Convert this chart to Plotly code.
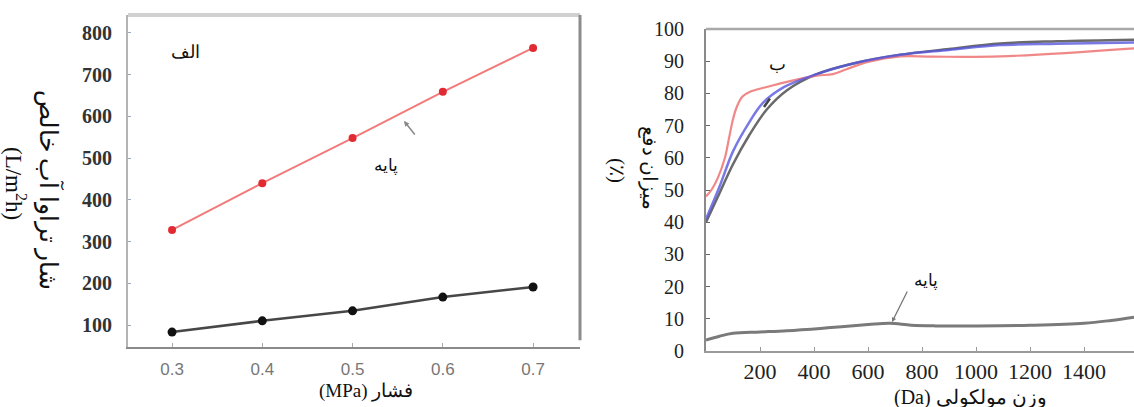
import plotly.graph_objects as go

W, H = 1134, 407


def px(x):
    return x / W


def py(y):
    return 1 - y / H


# ---------------- data: panel (a) ----------------
pressure = [0.3, 0.4, 0.5, 0.6, 0.7]
pressure_labels = ["0.3", "0.4", "0.5", "0.6", "0.7"]
flux_modified = [328, 440, 548, 659, 764]
flux_base = [83, 110, 134, 167, 191]
flux_ticks = [100, 200, 300, 400, 500, 600, 700, 800]

# ---------------- data: panel (b) ----------------
mw_red = [0, 20, 45, 70, 85, 100, 115, 135, 163, 225, 300, 410, 470, 520, 600, 720, 840, 1090, 1585]
rej_red = [48, 50, 54, 60, 66, 72, 76, 79, 80.5, 82, 83.6, 85.5, 86, 87.5, 89.8, 91.5, 91.4, 91.5, 94]

mw_blue = [0, 50, 100, 160, 210, 290, 410, 530, 720, 900, 1090, 1300, 1585]
rej_blue = [41, 51, 62, 71, 77, 82, 86, 89, 92, 93.5, 95, 95.4, 95.8]

mw_gray = [0, 50, 100, 160, 225, 300, 410, 530, 720, 900, 1090, 1300, 1585]
rej_gray = [40, 49, 58, 67, 75, 81, 86, 89, 92, 93.8, 95.5, 96.2, 96.7]

mw_base = [0, 50, 100, 200, 300, 450, 600, 680, 760, 850, 1000, 1200, 1400, 1500, 1585]
rej_base = [3.4, 4.6, 5.5, 5.9, 6.3, 7.2, 8.2, 8.6, 8.0, 7.8, 7.8, 8.0, 8.6, 9.5, 10.5]

mw_ticks = [200, 400, 600, 800, 1000, 1200, 1400]
rej_ticks = [0, 10, 20, 30, 40, 50, 60, 70, 80, 90, 100]

SERIF = "Liberation Serif"
FA = "Liberation Serif"

fig = go.Figure()

# panel (a)
fig.add_trace(go.Scatter(x=pressure, y=flux_modified, mode="lines+markers",
                         line=dict(color="#f37a7a", width=2),
                         marker=dict(color="#e22a32", size=8),
                         xaxis="x", yaxis="y"))
fig.add_trace(go.Scatter(x=pressure, y=flux_base, mode="lines+markers",
                         line=dict(color="#474747", width=2.5),
                         marker=dict(color="#111111", size=9),
                         xaxis="x", yaxis="y"))

# panel (b)
fig.add_trace(go.Scatter(x=mw_base, y=rej_base, mode="lines",
                         line=dict(color="#7a7a7a", width=3, shape="spline"),
                         xaxis="x2", yaxis="y2"))
fig.add_trace(go.Scatter(x=mw_gray, y=rej_gray, mode="lines",
                         line=dict(color="#6a6a6a", width=2.5, shape="spline"),
                         xaxis="x2", yaxis="y2"))
fig.add_trace(go.Scatter(x=mw_red, y=rej_red, mode="lines",
                         line=dict(color="#f07c7c", width=2.2, shape="spline"),
                         opacity=0.9, xaxis="x2", yaxis="y2"))
fig.add_trace(go.Scatter(x=mw_blue, y=rej_blue, mode="lines",
                         line=dict(color="#5858e0", width=2.5, shape="spline"),
                         opacity=0.8, xaxis="x2", yaxis="y2"))

fig.update_layout(
    width=W, height=H,
    margin=dict(l=0, r=0, t=0, b=0, autoexpand=False),
    paper_bgcolor="white", plot_bgcolor="white",
    showlegend=False,
    xaxis=dict(domain=[px(128), px(580)], range=[0.2512, 0.752], anchor="y",
               tickvals=pressure, ticktext=pressure_labels,
               ticks="inside", ticklen=4, tickcolor="#aaaaaa",
               showline=True, linecolor="#8a8a8a", linewidth=2,
               showgrid=False, zeroline=False, automargin=False,
               tickfont=dict(family="Liberation Sans", size=17, color="#777777"),
               ticklabelstandoff=6),
    yaxis=dict(domain=[py(347), py(15)], range=[47.3, 843], anchor="x",
               tickvals=flux_ticks,
               ticks="inside", ticklen=3, tickcolor="#9aaabb",
               showline=True, linecolor="#b4b4b4", linewidth=2,
               showgrid=False, zeroline=False, automargin=False,
               tickfont=dict(family=SERIF, size=20, color="#333333", weight="bold"),
               ticklabelstandoff=10),
    xaxis2=dict(domain=[px(706), 1.0], range=[0, 1585], anchor="y2",
                tickvals=mw_ticks,
                ticks="inside", ticklen=4, tickcolor="#999999",
                showline=True, linecolor="#9a9a9a", linewidth=2,
                showgrid=False, zeroline=False, automargin=False,
                tickfont=dict(family=SERIF, size=22, color="#222222"),
                ticklabelstandoff=0),
    yaxis2=dict(domain=[py(351), py(29)], range=[0, 100], anchor="x2",
                tickvals=rej_ticks,
                ticks="inside", ticklen=4, tickcolor="#666666",
                showline=True, linecolor="#8a8a8a", linewidth=2,
                showgrid=False, zeroline=False, automargin=False,
                tickfont=dict(family=SERIF, size=20, color="#222222"),
                ticklabelstandoff=16),
)

# frame lines
fig.add_shape(type="line", xref="x domain", yref="y domain", x0=0, x1=1, y0=1, y1=1,
              line=dict(color="#d0d0d0", width=4))
fig.add_shape(type="line", xref="x domain", yref="y domain", x0=1, x1=1, y0=0.02, y1=1,
              line=dict(color="#8c8c8c", width=3))
fig.add_shape(type="line", xref="x2 domain", yref="y2 domain", x0=0, x1=1, y0=1, y1=1,
              line=dict(color="#a8a8a8", width=2.5))

ann = []
# panel (a) labels
ann.append(dict(x=px(185), y=py(52), text="الف", font=dict(family=FA, size=18, color="#111")))
ann.append(dict(x=px(386), y=py(166), text="پایه", font=dict(family=FA, size=17, color="#111")))
ann.append(dict(x=px(49), y=py(190), text="شار تراوا آب خالص", textangle=90,
                font=dict(family=FA, size=25, color="#111")))
ann.append(dict(x=px(16), y=py(183), text="(L/m<sup>2</sup>h)", textangle=90,
                font=dict(family=SERIF, size=23, color="#111")))
ann.append(dict(x=px(366), y=py(391), text="(MPa) فشار",
                font=dict(family=FA, size=19, color="#111")))
# panel (b) labels
ann.append(dict(x=px(777), y=py(64), text="ب", font=dict(family=FA, size=18, color="#111")))
ann.append(dict(x=px(926), y=py(281), text="پایه", font=dict(family=FA, size=17, color="#111")))
ann.append(dict(x=px(650), y=py(168), text="میزان دفع", textangle=90,
                font=dict(family=FA, size=20, color="#111")))
ann.append(dict(x=px(617), y=py(170), text="(٪)", textangle=90,
                font=dict(family=FA, size=21, color="#111")))
ann.append(dict(x=px(970), y=py(397), text="(Da) وزن مولکولی",
                font=dict(family=FA, size=20, color="#111")))

for a in ann:
    a.update(xref="paper", yref="paper", showarrow=False, xanchor="center", yanchor="middle")
    fig.add_annotation(**a)

# small pointer arrows
fig.add_annotation(x=px(404), y=py(121), xref="paper", yref="paper", text="",
                   showarrow=True, ax=12, ay=15, arrowhead=2, arrowsize=0.7,
                   arrowwidth=1.5, arrowcolor="#888888")
fig.add_annotation(x=px(892), y=py(322), xref="paper", yref="paper", text="",
                   showarrow=True, ax=16, ay=-32, arrowhead=2, arrowsize=0.7,
                   arrowwidth=1.3, arrowcolor="#777777")
fig.add_annotation(x=px(764), y=py(107), xref="paper", yref="paper", text="",
                   showarrow=True, ax=7, ay=-10, arrowhead=0,
                   arrowwidth=2.5, arrowcolor="#444444")

fig.write_html("out.html", config={"displayModeBar": False},
               post_script="document.body.style.margin='0';document.body.style.padding='0';")
